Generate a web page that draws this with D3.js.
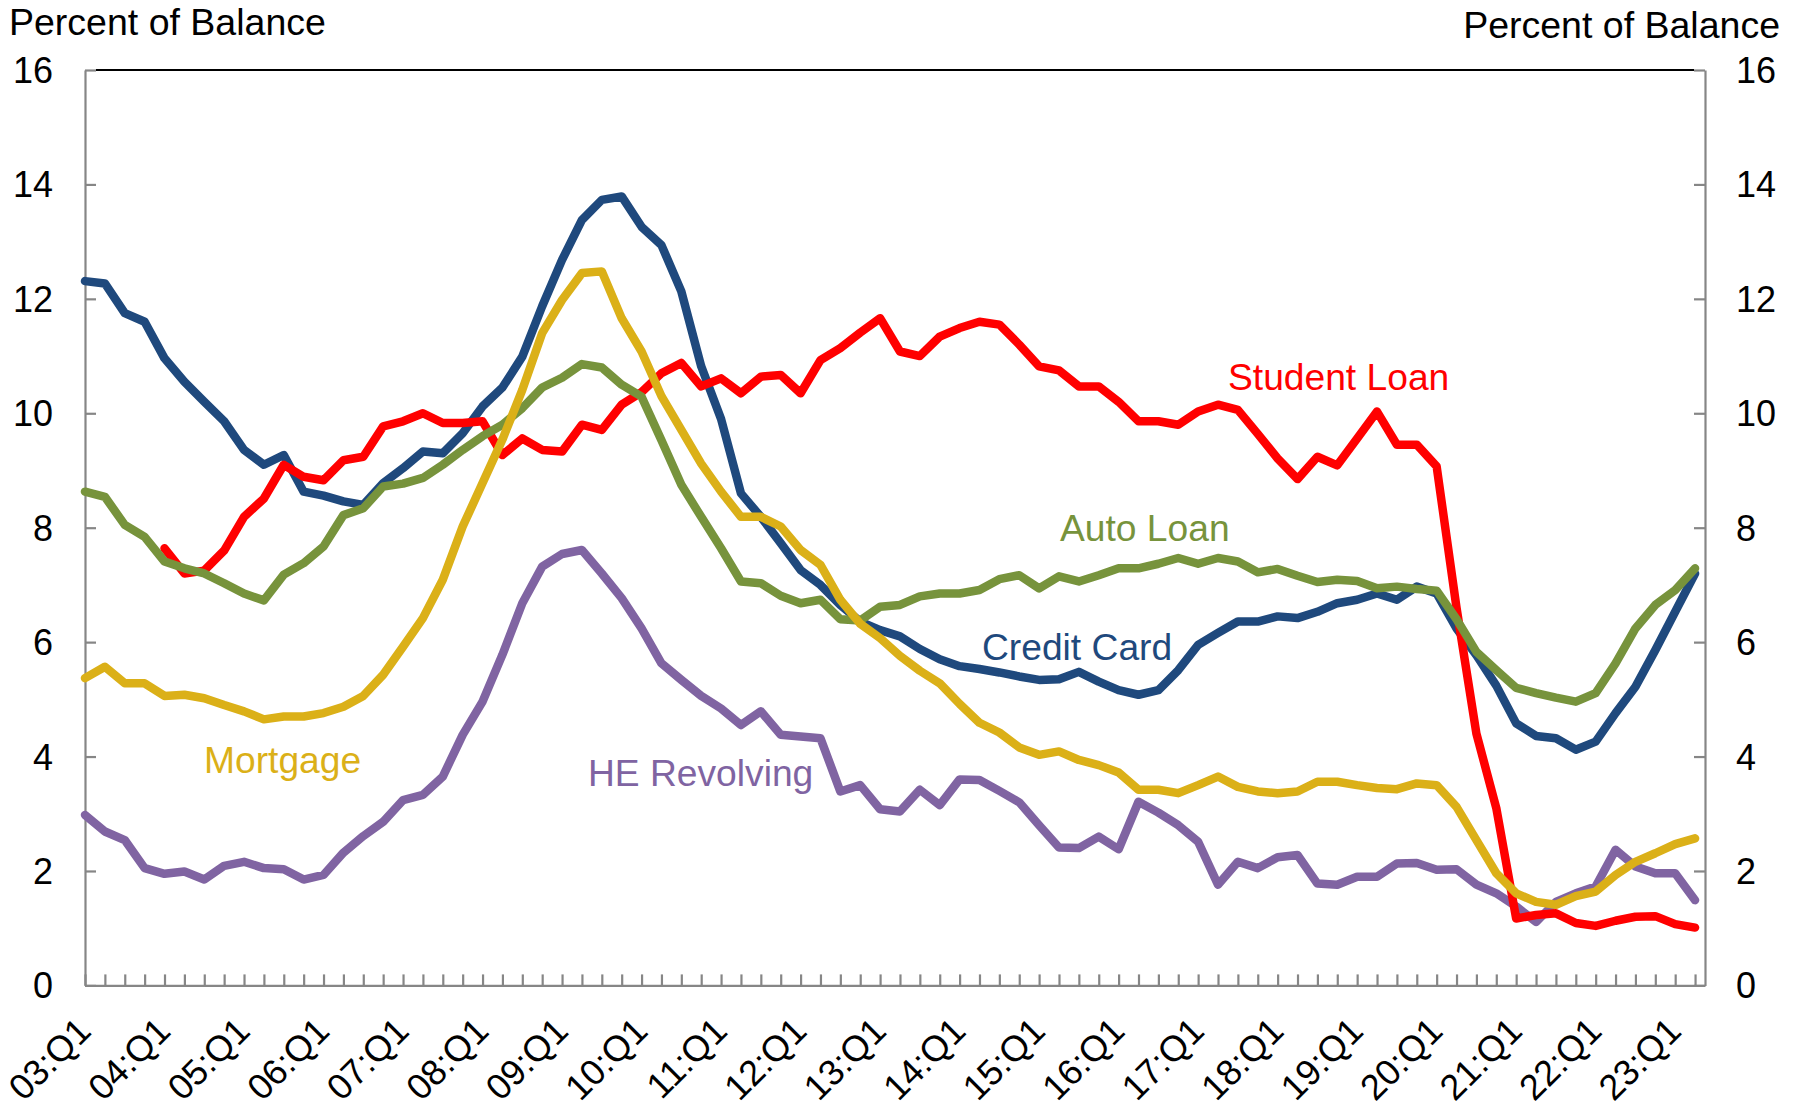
<!DOCTYPE html>
<html>
<head>
<meta charset="utf-8">
<script src="https://cdn.jsdelivr.net/npm/d3@7"></script>
<style>
  body { margin: 0; background: #fff; }
  text { font-family: "Liberation Sans", Arial, sans-serif; }
</style>
</head>
<body>
<div id="chart"></div>
<script>
// quarterly, 03:Q1 .. 23:Q2
var years = ["03","04","05","06","07","08","09","10","11","12","13","14","15","16","17","18","19","20","21","22","23"];
var tickLabels = ["03:Q1","04:Q1","05:Q1","06:Q1","07:Q1","08:Q1","09:Q1","10:Q1","11:Q1","12:Q1","13:Q1","14:Q1","15:Q1","16:Q1","17:Q1","18:Q1","19:Q1","20:Q1","21:Q1","22:Q1","23:Q1"];
var yTicks = [0, 2, 4, 6, 8, 10, 12, 14, 16];

var creditCard = [12.31,12.27,11.75,11.6,10.96,10.55,10.2,9.86,9.36,9.1,9.27,8.63,8.56,8.46,8.4,8.78,9.04,9.33,9.3,9.65,
  10.12,10.45,10.99,11.87,12.68,13.38,13.73,13.79,13.26,12.94,12.13,10.82,9.9,8.6,8.19,7.73,7.26,7.0,6.65,6.36,
  6.21,6.1,5.88,5.7,5.58,5.53,5.47,5.4,5.34,5.35,5.48,5.31,5.16,5.08,5.16,5.51,5.95,6.16,6.36,6.36,
  6.45,6.42,6.53,6.68,6.74,6.85,6.74,6.97,6.85,6.24,5.77,5.24,4.58,4.36,4.32,4.12,4.26,4.76,5.22,5.86,
  6.53,7.2];

var heRevolving = [2.98,2.69,2.54,2.05,1.95,1.99,1.85,2.09,2.16,2.05,2.03,1.85,1.93,2.32,2.61,2.86,3.24,3.33,3.65,4.38,
  4.96,5.78,6.68,7.32,7.54,7.61,7.2,6.77,6.24,5.63,5.34,5.06,4.84,4.55,4.79,4.38,4.35,4.32,3.39,3.5,
  3.08,3.04,3.42,3.15,3.6,3.59,3.4,3.2,2.8,2.41,2.4,2.6,2.38,3.21,3.02,2.8,2.51,1.76,2.16,2.05,
  2.24,2.28,1.78,1.76,1.9,1.9,2.13,2.14,2.02,2.03,1.76,1.61,1.38,1.11,1.46,1.61,1.73,2.37,2.08,1.96,
  1.96,1.49];

var studentLoan = [null,null,null,null,7.64,7.2,7.25,7.6,8.19,8.51,9.1,8.89,8.83,9.18,9.24,9.77,9.86,10.0,9.83,9.83,
  9.86,9.27,9.56,9.36,9.33,9.8,9.71,10.15,10.37,10.7,10.88,10.47,10.61,10.35,10.64,10.67,10.35,10.93,11.14,11.41,
  11.66,11.08,11.0,11.34,11.49,11.6,11.55,11.2,10.82,10.75,10.47,10.47,10.2,9.86,9.86,9.8,10.03,10.15,10.06,9.64,
  9.21,8.85,9.24,9.09,9.56,10.03,9.45,9.45,9.07,6.6,4.4,3.1,1.17,1.23,1.26,1.09,1.04,1.13,1.2,1.21,
  1.07,1.01];

var autoLoan = [8.63,8.54,8.05,7.84,7.41,7.29,7.2,7.03,6.85,6.73,7.18,7.38,7.67,8.22,8.34,8.72,8.77,8.87,9.1,9.36,
  9.6,9.8,10.09,10.45,10.62,10.86,10.8,10.5,10.29,9.53,8.75,8.19,7.64,7.06,7.03,6.81,6.68,6.74,6.4,6.38,
  6.62,6.65,6.8,6.85,6.85,6.91,7.1,7.17,6.94,7.15,7.06,7.17,7.29,7.29,7.37,7.47,7.37,7.47,7.41,7.22,
  7.28,7.16,7.05,7.09,7.07,6.94,6.97,6.93,6.9,6.4,5.83,5.51,5.2,5.11,5.03,4.96,5.11,5.63,6.24,6.65,
  6.91,7.29];

var mortgage = [5.37,5.57,5.28,5.28,5.06,5.08,5.02,4.9,4.79,4.65,4.7,4.7,4.76,4.87,5.06,5.43,5.92,6.42,7.09,8.02,
  8.78,9.54,10.41,11.4,11.98,12.45,12.48,11.66,11.08,10.3,9.71,9.12,8.63,8.19,8.19,8.02,7.61,7.35,6.74,6.32,
  6.07,5.76,5.5,5.28,4.92,4.59,4.42,4.16,4.03,4.09,3.94,3.85,3.72,3.42,3.42,3.36,3.5,3.65,3.47,3.39,
  3.36,3.39,3.56,3.56,3.5,3.45,3.43,3.53,3.5,3.12,2.54,1.96,1.61,1.46,1.41,1.56,1.64,1.93,2.16,2.31,
  2.47,2.57];

// quarter labels (categories)
var quarters = [];
years.forEach(function(yr) {
    ["Q1","Q2","Q3","Q4"].forEach(function(q) { quarters.push(yr + ":" + q); });
});
quarters = quarters.slice(0, creditCard.length);

// drawing order = bottom to top
var series = [
    {name: "Credit Card",  values: creditCard,  color: "#1f497d", lx: 982,  ly: 660},
    {name: "HE Revolving", values: heRevolving, color: "#8064a2", lx: 588,  ly: 786},
    {name: "Student Loan", values: studentLoan, color: "#ff0000", lx: 1228, ly: 390},
    {name: "Auto Loan",    values: autoLoan,    color: "#77933c", lx: 1060, ly: 541},
    {name: "Mortgage",     values: mortgage,    color: "#dbb018", lx: 204,  ly: 773}
];

var W = 1803, H = 1107;
var plotL = 85, plotR = 1705, plotT = 70, plotB = 985.4;
var fontSize = 36;
var labelSize = 37.2;
var axisGrey = "#868686";

var x = d3.scaleLinear()
    .domain([0, quarters.length - 0.5])
    .range([plotL, plotR]);

var y = d3.scaleLinear()
    .domain([0, 16])
    .range([plotB, plotT]);

var svg = d3.select("#chart").append("svg")
    .attr("width", W)
    .attr("height", H);

// TOP BORDER (black)
svg.append("line")
    .attr("x1", plotL + 11).attr("x2", plotR - 11)
    .attr("y1", y(16)).attr("y2", y(16))
    .attr("stroke", "#000").attr("stroke-width", 2.2);

// Y AXES (ticks point inward)
var yAxisL = d3.axisLeft(y).tickValues(yTicks).tickSizeInner(-11).tickSizeOuter(0).tickFormat("");
var yAxisR = d3.axisRight(y).tickValues(yTicks).tickSizeInner(-11).tickSizeOuter(0).tickFormat("");

svg.append("g")
    .attr("class", "axis")
    .attr("transform", "translate(" + plotL + ",0)")
    .call(yAxisL);

svg.append("g")
    .attr("class", "axis")
    .attr("transform", "translate(" + plotR + ",0)")
    .call(yAxisR);

// X AXIS, a tick every quarter
var xAxis = d3.axisBottom(x)
    .tickValues(d3.range(quarters.length))
    .tickSizeInner(-11)
    .tickSizeOuter(0)
    .tickFormat("");

svg.append("g")
    .attr("class", "axis")
    .attr("transform", "translate(0," + plotB + ")")
    .call(xAxis);

svg.selectAll(".axis path, .axis line")
    .attr("stroke", axisGrey)
    .attr("stroke-width", 2.2);

// tick labels, both sides
svg.selectAll(".ylab-l")
    .data(yTicks).enter().append("text")
    .attr("class", "ylab-l")
    .attr("x", 53)
    .attr("y", function(d) { return y(d); })
    .attr("dy", "0.36em")
    .attr("text-anchor", "end")
    .style("font-size", fontSize + "px")
    .text(function(d) { return d; });

svg.selectAll(".ylab-r")
    .data(yTicks).enter().append("text")
    .attr("class", "ylab-r")
    .attr("x", 1736)
    .attr("y", function(d) { return y(d); })
    .attr("dy", "0.36em")
    .attr("text-anchor", "start")
    .style("font-size", fontSize + "px")
    .text(function(d) { return d; });

// rotated quarter labels
svg.selectAll(".xlab")
    .data(tickLabels).enter().append("text")
    .attr("class", "xlab")
    .attr("text-anchor", "end")
    .attr("transform", function(d) {
        var i = quarters.indexOf(d);
        return "translate(" + (x(i) + 8) + "," + 1033 + ") rotate(-45)";
    })
    .style("font-size", fontSize + "px")
    .text(function(d) { return d; });

// axis titles
svg.append("text")
    .attr("x", 9).attr("y", 35)
    .style("font-size", "37.5px")
    .text("Percent of Balance");

svg.append("text")
    .attr("x", 1780).attr("y", 38)
    .attr("text-anchor", "end")
    .style("font-size", "37.5px")
    .text("Percent of Balance");

// LINES
var line = d3.line()
    .defined(function(d) { return d != null; })
    .x(function(d, i) { return x(i); })
    .y(function(d) { return y(d); });

svg.selectAll(".series")
    .data(series).enter().append("path")
    .attr("class", "series")
    .attr("d", function(d) { return line(d.values); })
    .attr("fill", "none")
    .attr("stroke", function(d) { return d.color; })
    .attr("stroke-width", 8.5)
    .attr("stroke-linejoin", "round")
    .attr("stroke-linecap", "round");

// SERIES LABELS
svg.selectAll(".slab")
    .data(series).enter().append("text")
    .attr("class", "slab")
    .attr("x", function(d) { return d.lx; })
    .attr("y", function(d) { return d.ly; })
    .attr("fill", function(d) { return d.color; })
    .style("font-size", labelSize + "px")
    .text(function(d) { return d.name; });
</script>
</body>
</html>
